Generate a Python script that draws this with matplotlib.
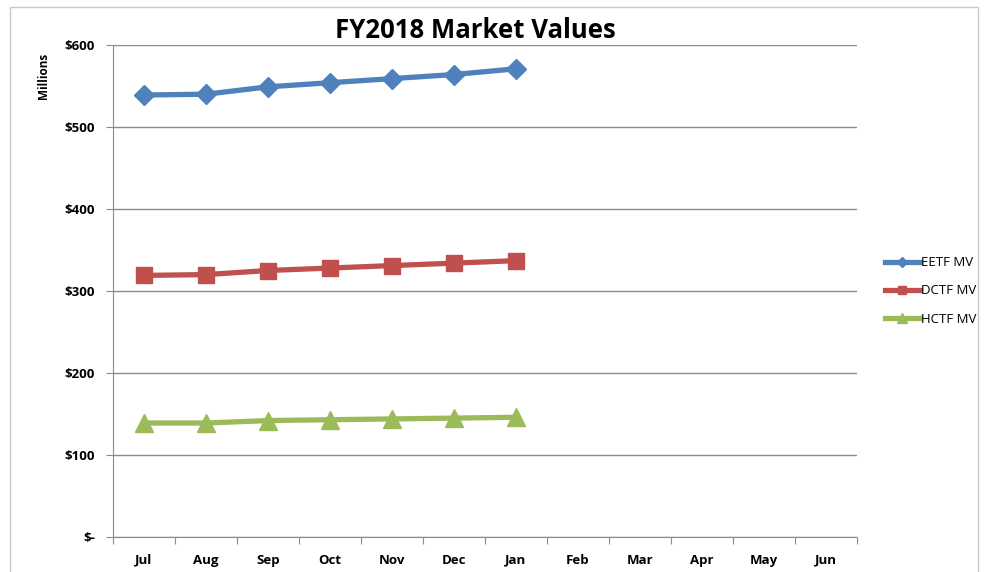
import matplotlib
matplotlib.use("Agg")
import matplotlib.pyplot as plt
import numpy as np
from matplotlib.patches import Rectangle

# Data (millions)
months = ["Jul", "Aug", "Sep", "Oct", "Nov", "Dec", "Jan",
          "Feb", "Mar", "Apr", "May", "Jun"]
eetf_mv = [539, 540, 549, 554, 559, 564, 571]
dctf_mv = [319, 320, 325, 328, 331, 334, 337]
hctf_mv = [139, 139, 142, 143, 144, 145, 146]
y_ticks = [0, 100, 200, 300, 400, 500, 600]
y_labels = ["$-", "$100", "$200", "$300", "$400", "$500", "$600"]

plt.rcParams['font.family'] = ['Open Sans', 'DejaVu Sans']

fig = plt.figure(figsize=(9.87, 5.72), dpi=100)
ax = fig.add_axes([113 / 987, 35 / 572, 744 / 987, 492 / 572])

# outer chart border
fig.patches.append(Rectangle((10 / 987, -0.05), 968 / 987, 1.05 - 7 / 572,
                             transform=fig.transFigure, fill=False,
                             edgecolor="#c8c8c8", linewidth=1))

x = np.arange(len(eetf_mv))
ax.plot(x, eetf_mv, color="#4F81BD", lw=3.8, marker="D", ms=10, label="EETF MV")
ax.plot(x, dctf_mv, color="#C0504D", lw=3.8, marker="s", ms=12, label="DCTF MV")
ax.plot(x, hctf_mv, color="#9BBB59", lw=3.8, marker="^", ms=13, label="HCTF MV")

ax.set_xlim(-0.5, len(months) - 0.5)
ax.set_ylim(0, 600)

ax.set_yticks(y_ticks)
ax.set_yticklabels(y_labels, fontweight="bold", fontsize=9.5)
ax.yaxis.grid(True, color="#8c8c8c", lw=1)
ax.set_axisbelow(True)

ax.set_xticks(np.arange(len(months) + 1) - 0.5)
ax.set_xticklabels([])
ax.set_xticks(np.arange(len(months)), minor=True)
ax.set_xticklabels(months, minor=True, fontweight="bold", fontsize=9.5)
ax.tick_params(axis="x", which="minor", length=0, pad=12)
ax.tick_params(axis="x", which="major", length=5, color="#8c8c8c")
ax.tick_params(axis="y", length=5, color="#8c8c8c", pad=8)

for s in ["top", "right"]:
    ax.spines[s].set_visible(False)
for s in ["left", "bottom"]:
    ax.spines[s].set_color("#8c8c8c")

fig.text(43 / 987, 1 - 76 / 572, "Millions", rotation=90, fontweight="bold",
         fontsize=8.5, ha="center", va="center")
fig.text(475 / 987, 1 - 31 / 572, "FY2018 Market Values", fontweight="bold",
         fontsize=18.5, ha="center", va="center")

leg = ax.legend(loc="center left", bbox_to_anchor=(880 / 987, 1 - 291 / 572),
                bbox_transform=fig.transFigure, frameon=False, fontsize=9.5,
                markerscale=0.5, handlelength=2.6, handletextpad=0.1,
                labelspacing=1.15, borderaxespad=0)

fig.savefig("out.png", dpi=100)
